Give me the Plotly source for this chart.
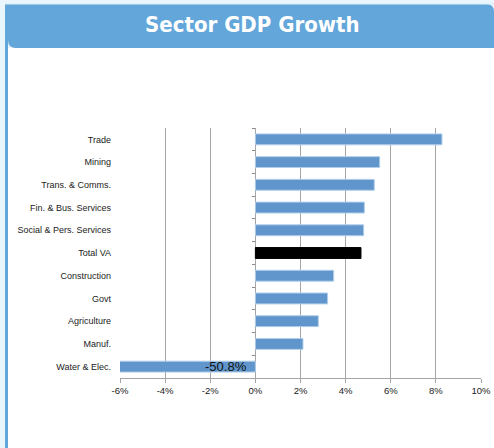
import plotly.graph_objects as go

categories = ["Trade", "Mining", "Trans. & Comms.", "Fin. & Bus. Services",
              "Social & Pers. Services", "Total VA", "Construction", "Govt",
              "Agriculture", "Manuf.", "Water & Elec."]
growth = [8.27, 5.51, 5.27, 4.83, 4.80, 4.68, 3.47, 3.20, 2.79, 2.11, -50.8]
x_ticks = [-6, -4, -2, 0, 2, 4, 6, 8, 10]
x_tick_labels = ["-6%", "-4%", "-2%", "0%", "2%", "4%", "6%", "8%", "10%"]
highlight = "Total VA"
title = "Sector GDP Growth"

W, H = 494, 448
L, R, T, B = 120, 13, 128, 70
PW, PH = W - L - R, H - T - B

def px(x):
    return (x - L) / PW

def py(y):
    return 1 - (y - T) / PH

colors = ["#000000" if c == highlight else "#6096cc" for c in categories]
lines = ["#000000" if c == highlight else "#b3cfea" for c in categories]

fig = go.Figure()
fig.add_trace(go.Bar(
    x=growth, y=categories, orientation="h",
    marker=dict(color=colors, line=dict(color=lines, width=1)),
    width=0.48, hoverinfo="skip", showlegend=False,
))
# invisible carrier so the category axis crossing at 0 can show its boundary ticks
fig.add_trace(go.Scatter(x=[0] * len(categories), y=categories, yaxis="y2",
                         mode="markers", marker=dict(opacity=0), hoverinfo="skip",
                         showlegend=False))

for c, v in zip(categories, growth):
    if v < x_ticks[0]:
        fig.add_annotation(x=0, y=c, text=f"{v:.1f}%", showarrow=False,
                           xanchor="right", xshift=-6, yshift=0,
                           font=dict(family="Liberation Sans, Arial", size=13, color="#111"))

shapes = []
x0, y0, x1, y1 = px(8), py(48), px(W + 2), py(H + 2)
shapes.append(dict(type="rect", xref="paper", yref="paper", x0=x0, x1=x1, y0=y1, y1=y0,
                   fillcolor="white", line=dict(width=0), layer="below"))
shapes.append(dict(type="path", xref="paper", yref="paper",
                   path=(f"M {px(5)},{py(4)} L {px(486)},{py(4)} "
                         f"Q {px(494)},{py(4)} {px(494)},{py(12)} "
                         f"L {px(494)},{py(48)} L {px(16)},{py(48)} "
                         f"Q {px(8)},{py(48)} {px(8)},{py(40)} L {px(8)},{py(H+2)} "
                         f"L {px(5)},{py(H+2)} Z"),
                   fillcolor="#62a6da", line=dict(width=0), layer="below"))
shapes.append(dict(type="line", xref="paper", yref="paper", x0=px(5), x1=px(494), y0=py(4), y1=py(4),
                   line=dict(color="#d9eef9", width=1), layer="below"))

fig.add_annotation(xref="paper", yref="paper", x=px(252), y=py(24), text=f"<b>{title}</b>",
                   showarrow=False, xanchor="center", yanchor="middle",
                   font=dict(family="Liberation Sans Narrow, Arial Narrow, DejaVu Sans Condensed",
                             size=22, color="white"))

zero_pos = (0 - x_ticks[0]) / (x_ticks[-1] - x_ticks[0])
y_range = [len(categories) - 0.5, -0.5]

fig.update_layout(
    width=W, height=H, autosize=False,
    margin=dict(l=L, r=R, t=T, b=B, pad=0),
    paper_bgcolor="#e9f6fd", plot_bgcolor="white",
    shapes=shapes,
    bargap=0.5,
    font=dict(family="Liberation Sans, Arial", size=9, color="#222"),
    xaxis=dict(range=[x_ticks[0], x_ticks[-1]], tickvals=x_ticks, ticktext=x_tick_labels,
               showgrid=True, gridcolor="#a5a5a5", gridwidth=1, zeroline=False,
               showline=True, linecolor="#a5a5a5", linewidth=1, automargin=False,
               ticks="outside", ticklen=4, tickcolor="#a5a5a5", fixedrange=True,
               tickfont=dict(size=9.5, color="#222")),
    yaxis=dict(categoryorder="array", categoryarray=categories, range=y_range,
               showgrid=False, zeroline=False, showline=False, ticks="", automargin=False,
               ticklabelstandoff=8, fixedrange=True,
               tickfont=dict(size=9, color="#222")),
    yaxis2=dict(overlaying="y", anchor="free", position=zero_pos, side="left",
                categoryorder="array", categoryarray=categories, range=y_range,
                showgrid=False, zeroline=False, showline=False, showticklabels=False,
                ticks="outside", ticklen=3, tickcolor="#8a8a8a", tickson="boundaries",
                automargin=False, fixedrange=True),
)

fig.write_html("out.html", config={"displayModeBar": False, "responsive": False},
               post_script=("document.documentElement.style.overflow='hidden';"
                            "document.body.style.margin='0';document.body.style.overflow='hidden';"))
